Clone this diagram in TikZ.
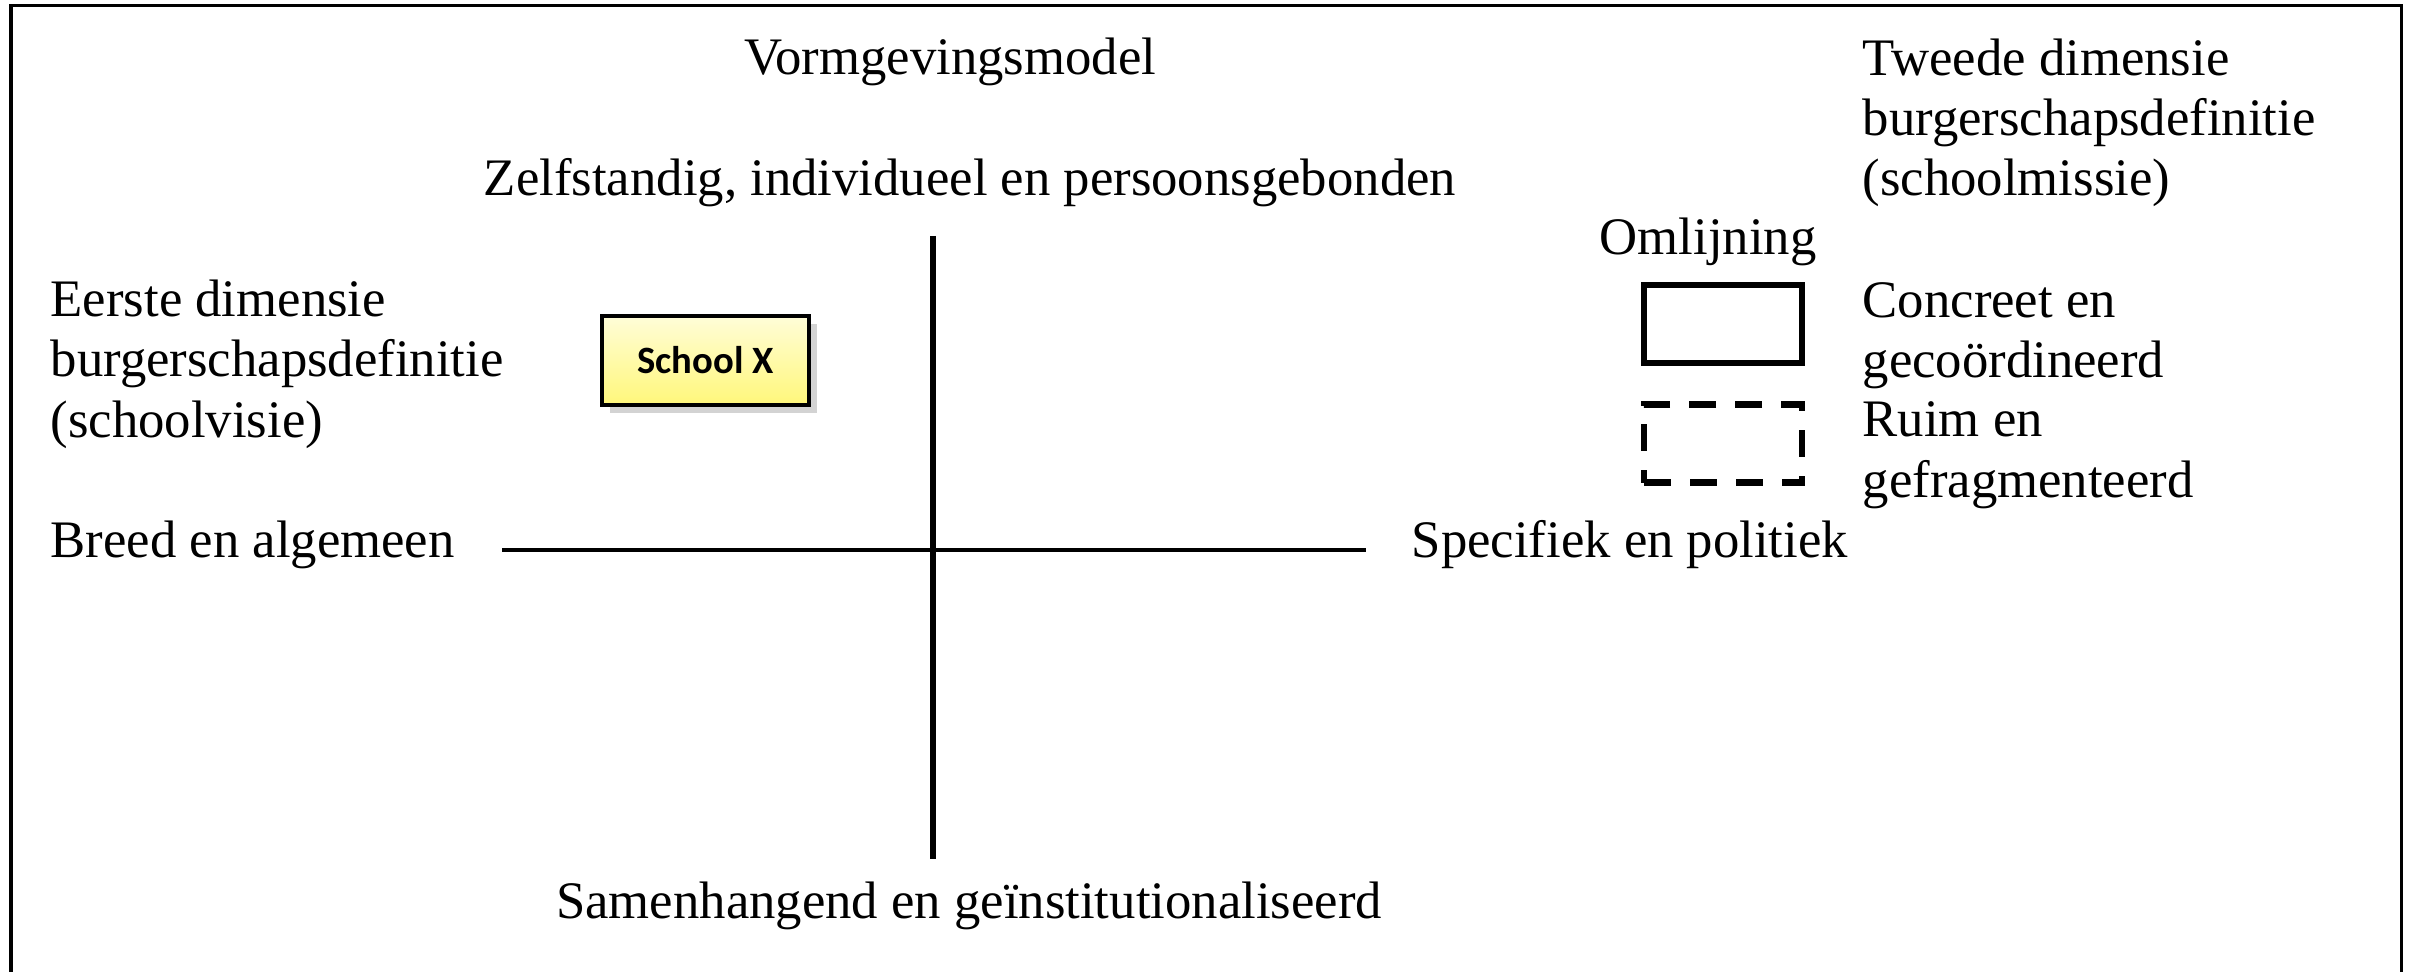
\documentclass[tikz,border=0pt]{standalone}
\usepackage{fontspec}
\setmainfont{Liberation Serif}
\newfontfamily\calibri{Carlito}
\usepackage{xcolor}
\usetikzlibrary{positioning,shadows}
\definecolor{boxtop}{HTML}{FFFDD8}
\definecolor{boxbottom}{HTML}{FFF77A}

\begin{document}
\begin{tikzpicture}[x=0.1mm,y=-0.1mm,
	every node/.style={inner sep=0pt,font=\fontsize{15}{17.2}\selectfont},
	txt/.style={anchor=base west,align=left},
	ctxt/.style={anchor=base},
	axis/.style={line width=1.7pt},
	legendbox/.style={draw,minimum width=15.8mm,minimum height=7.8mm},
	schoolbox/.style={draw,line width=1.2pt,minimum width=20.7mm,minimum height=8.9mm,
		top color=boxtop,bottom color=boxbottom,drop shadow={opacity=0.35},
		font=\calibri\bfseries\fontsize{11}{13}\selectfont}]
		\useasboundingbox (0,0) rectangle (2413,972);
		\draw[line width=1pt] (11,972) -- (11,5.5) -- (2401.5,5.5) -- (2401.5,972);
		
		% axes
		\coordinate (top) at (933,236);
		\coordinate (bottom) at (933,859);
		\coordinate (left) at (502,550);
		\coordinate (right) at (1366,550);
		\draw[axis] (top) -- (bottom);
		\draw[axis,line width=1.1pt] (left) -- (right);
		
		\node[ctxt] (model) at (950,75) {Vormgevingsmodel};
		\node[ctxt] (zelf) at (970,196) {Zelfstandig, individueel en persoonsgebonden};
		\node[ctxt] (samen) at (969,918) {Samenhangend en geïnstitutionaliseerd};
		\node[txt] (eerste) at (50,437) {Eerste dimensie\\burgerschapsdefinitie\\(schoolvisie)};
		\node[txt] (breed) at (50,557) {Breed en algemeen};
		\node[txt] (spec) at (1411,557) {Specifiek en politiek};
		
		\node[schoolbox] (schoolx) at (705.5,360.5) {School X};
		
		% legenda
		\node[txt] (tweede) at (1862,196) {Tweede dimensie\\burgerschapsdefinitie\\(schoolmissie)};
		\node[ctxt] (omlijning) at (1708,255) {Omlijning};
		\node[legendbox,line width=1.7pt] (solid) at (1723,324) {};
		\node[legendbox,line width=1.9pt,dash pattern=on 2.7mm off 1.9mm] (dash) at (1723,443.5) {};
		\node[txt] (concreet) at (1862,378) {Concreet en\\gecoördineerd};
		\node[txt] (ruim) at (1862,497) {Ruim en\\gefragmenteerd};
		
\end{tikzpicture}
\end{document}
